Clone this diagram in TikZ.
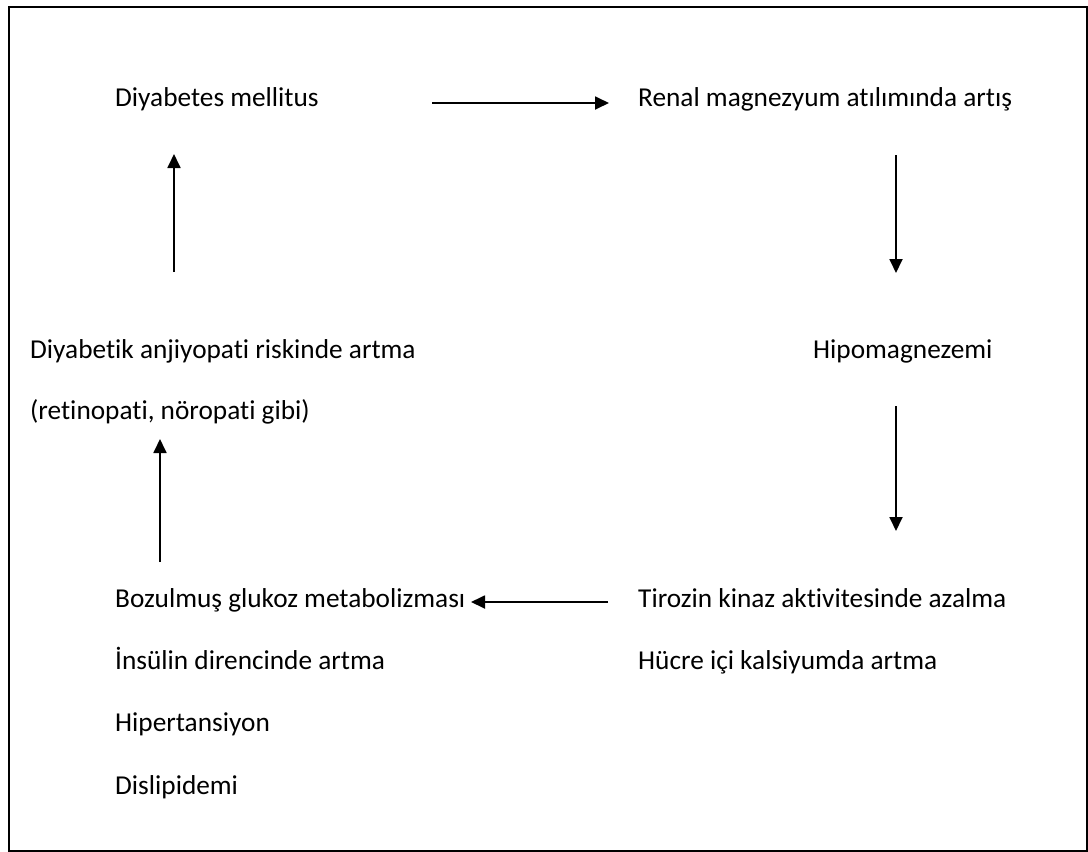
\documentclass[tikz,border=0pt]{standalone}
\usepackage{fontspec}
\setmainfont[Ligatures={NoCommon}]{Carlito}
\usetikzlibrary{arrows.meta}
\begin{document}
\begin{tikzpicture}[x=1pt,y=-1pt,
  lbl/.style={anchor=base west,inner sep=0pt,font=\fontsize{27.3}{32}\selectfont},
  arr/.style={line width=1.8pt,-{Triangle[length=14pt,width=13pt]}}]
\useasboundingbox (0,0) rectangle (1088,852);
\draw[line width=2pt] (9,7) rectangle (1087,851);
\node[lbl] (dm) at (115,106) {Diyabetes mellitus};
\node[lbl] (renal) at (638,106) {Renal magnezyum atılımında artış};
\node[lbl] (hipo) at (813,358) {Hipomagnezemi};
\node[lbl] (anj) at (30,358) {Diyabetik anjiyopati riskinde artma};
\node[lbl] (ret) at (30,419) {(retinopati, nöropati gibi)};
\node[lbl] (boz) at (115,607) {Bozulmuş glukoz metabolizması};
\node[lbl] (ins) at (115,669) {İnsülin direncinde artma};
\node[lbl] (hip) at (115,731) {Hipertansiyon};
\node[lbl] (dis) at (115,794) {Dislipidemi};
\node[lbl] (tir) at (638,607) {Tirozin kinaz aktivitesinde azalma};
\node[lbl] (hcr) at (638,669) {Hücre içi kalsiyumda artma};
\coordinate (a1s) at (432,103); \coordinate (a1e) at (609,103);
\coordinate (a2s) at (896,155); \coordinate (a2e) at (896,273);
\coordinate (a3s) at (896,406); \coordinate (a3e) at (896,531);
\coordinate (a4s) at (608,602); \coordinate (a4e) at (471,602);
\coordinate (a5s) at (160,562); \coordinate (a5e) at (160,439);
\coordinate (a6s) at (174,272); \coordinate (a6e) at (174,154);
\draw[arr] (a1s) -- (a1e);
\draw[arr] (a2s) -- (a2e);
\draw[arr] (a3s) -- (a3e);
\draw[arr] (a4s) -- (a4e);
\draw[arr] (a5s) -- (a5e);
\draw[arr] (a6s) -- (a6e);
\end{tikzpicture}
\end{document}
